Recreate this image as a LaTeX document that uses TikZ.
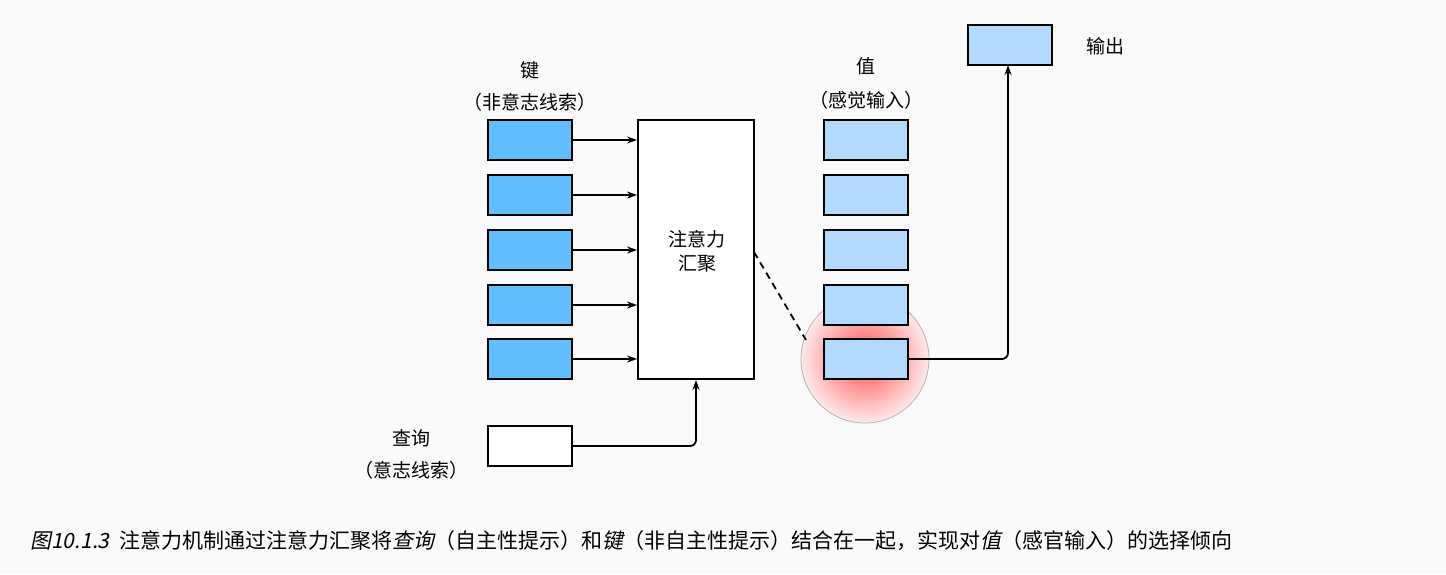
\documentclass[tikz,border=0pt]{standalone}
\usepackage{fontspec}
\setmainfont{Noto Sans CJK SC}[AutoFakeSlant=0.2]
\usetikzlibrary{arrows.meta}
\definecolor{bg}{HTML}{FAFAFA}
\definecolor{keyc}{HTML}{64BDFF}
\definecolor{valc}{HTML}{B3D9FF}
\begin{document}
\begin{tikzpicture}[x=1pt,y=-1pt,
  box/.style={draw=black,line width=1.8pt,minimum width=84pt,minimum height=40pt,inner sep=0pt},
  key/.style={box,fill=keyc},
  val/.style={box,fill=valc},
  lbl/.style={font=\fontsize{19}{22}\selectfont,inner sep=0pt},
  arr/.style={-{Stealth[length=10pt,width=7pt]},line width=1.8pt}]
\fill[bg] (0,0) rectangle (1446,574);
\useasboundingbox (0,0) rectangle (1446,574);
\shade[inner color=red!70,outer color=red!8,draw=gray!60,line width=0.8pt] (865,359) circle (64);
\foreach \y/\n in {140/1,195/2,250/3,305/4,359/5}{
  \node[key] (k\n) at (530,\y) {};
  \node[val] (v\n) at (866,\y) {};
}
\node[draw=black,line width=1.8pt,fill=white,minimum width=116pt,minimum height=259pt,inner sep=0pt] (att) at (696,249.5) {};
\node[lbl,align=center] at (697,251) {注意力\\[2pt]汇聚};
\node[box,fill=white] (q) at (530,446) {};
\node[val] (out) at (1010,45) {};
\foreach \n in {1,...,5}{\draw[arr] (k\n.east) -- (k\n.east -| att.west);}
\draw[arr,rounded corners=6pt] (q.east) -- (696,446) -- (att.south);
\draw[arr,rounded corners=6pt] (v5.east) -- (1008,359) -- (1008,65);
\draw[line width=1.8pt,dash pattern=on 7pt off 5pt] (754,252) -- (806,340);
\node[lbl] at (530,70) {键};
\node[lbl] at (530,102) {（非意志线索）};
\node[lbl] at (866,66) {值};
\node[lbl] at (866,100) {（感觉输入）};
\node[lbl] at (1105,46) {输出};
\node[lbl] at (411,438) {查询};
\node[lbl] at (411,470) {（意志线索）};
\node[anchor=west,inner sep=0pt,font=\fontsize{21}{24}\selectfont] (cap) at (30,541) {\textit{图10.1.3}\hspace{10pt}注意力机制通过注意力汇聚将\textit{查询}（自主性提示）和\textit{键}（非自主性提示）结合在一起，实现对\textit{值}（感官输入）的选择倾向};
\end{tikzpicture}
\end{document}
